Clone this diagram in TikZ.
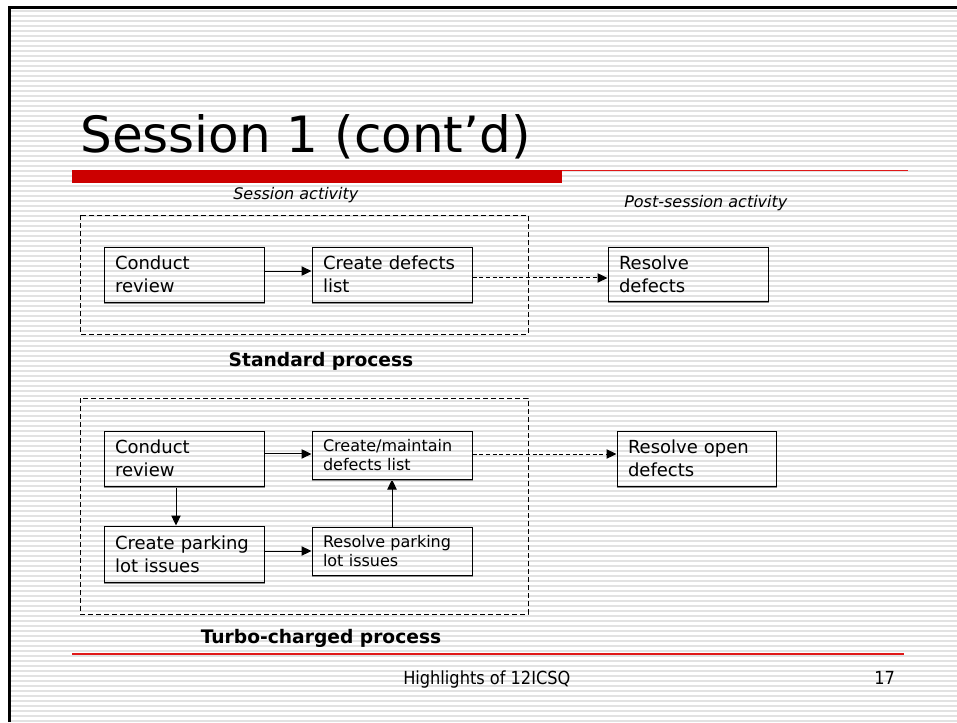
\documentclass[tikz,border=0pt]{standalone}
\usepackage{fontspec}
\setmainfont{DejaVu Sans}
\newfontfamily\footfont{DejaVu Sans Condensed}
\usetikzlibrary{arrows.meta,calc}
\definecolor{stripe}{HTML}{E2E2E2}
\definecolor{barred}{HTML}{CC0000}
\definecolor{linered}{HTML}{E01818}
\definecolor{shadowgray}{HTML}{8C8C8C}
\begin{document}
\begin{tikzpicture}[x=0.75pt,y=-0.75pt,
  box/.style={draw,line width=0.75pt,rectangle,minimum width=120pt,text width=103.5pt,
    inner xsep=8.25pt,inner ysep=0pt,align=left,font=\fontsize{13.5}{17.25}\selectfont},
  smallbox/.style={box,font=\fontsize{12}{14.25}\selectfont},
  arr/.style={-{Triangle[length=7.5pt,width=7pt]},line width=0.75pt},
  dasharr/.style={arr,dash pattern=on 3pt off 2pt},
  dashbox/.style={line width=0.75pt,dash pattern=on 3.75pt off 2.25pt},
  caption/.style={inner sep=0pt,font=\fontsize{12}{14}\selectfont\itshape},
  proc/.style={inner sep=0pt,font=\fontsize{14}{16}\selectfont\bfseries},
  foot/.style={inner sep=0pt,font=\fontsize{13.5}{16}\footfont}]
\useasboundingbox (0,0) rectangle (957,722);
\fill[white] (0,0) rectangle (957,722);
% stripes
\foreach \k in {0,...,142}{
  \draw[stripe,line width=1.3pt] (11,{11+5*\k}) -- (957,{11+5*\k});
}
% border
\draw[black,line width=1.9pt] (9.5,722) -- (9.5,7.5) -- (957,7.5);
% title
\node[anchor=base west,inner sep=0pt,font=\fontsize{37.5}{42}\selectfont] (title) at (80,152) {Session 1 (cont’d)};
\draw[linered,line width=1.1pt] (562,170.7) -- (908,170.7);
\fill[barred] (72,170) rectangle (562,182.5);
% captions
\node[caption,anchor=base west] (sa) at (233,199) {Session activity};
\node[caption,anchor=base west] (psa) at (624,207) {Post-session activity};
% standard process
\draw[dashbox] (80,215) rectangle (528,334);
\node[box,minimum height=41.25pt] (A1) at (184,274.5) {Conduct\\review};
\node[box,minimum height=41.25pt] (B1) at (392,274.5) {Create defects\\list};
\node[box,minimum height=40.5pt] (C1) at (688,274) {Resolve\\defects};
\draw[arr] ([yshift=2.6pt]A1.east) -- ([yshift=2.6pt]A1.east -| B1.west);
\draw[dasharr] ([yshift=-2.6pt]B1.east) -- ([yshift=-2.6pt]B1.east -| C1.west);
\node[proc,anchor=base] (std) at (321,366) {Standard process};
% turbo-charged process
\draw[dashbox] (80,398) rectangle (528,614);
\node[box,minimum height=41.25pt] (A2) at (184,458.5) {Conduct\\review};
\node[smallbox,minimum height=36pt] (B2) at (392,455) {Create/maintain\\defects list};
\node[box,minimum height=41.25pt,minimum width=119.25pt,text width=102.75pt] (C2) at (696.5,458.5) {Resolve open\\defects};
\node[box,minimum height=42pt] (D2) at (184,554) {Create parking\\lot issues};
\node[smallbox,minimum height=36pt] (E2) at (392,551) {Resolve parking\\lot issues};
\draw[arr] ([yshift=3.4pt]A2.east) -- ([yshift=3.4pt]A2.east -| B2.west);
\draw[arr] ([xshift=-6pt]A2.south) -- ([xshift=-6pt]A2.south |- D2.north);
\draw[arr] ([yshift=2.25pt]D2.east) -- ([yshift=2.25pt]D2.east -| E2.west);
\draw[arr] (E2.north) -- (B2.south);
\draw[dasharr] ([yshift=0.75pt]B2.east) -- ([yshift=0.75pt]B2.east -| C2.west);
\node[proc,anchor=base] (turbo) at (321,643) {Turbo-charged process};
% box shadows
\foreach \n in {A1,B1,C1,A2,B2,C2,D2,E2}{
  \draw[shadowgray,line width=0.9pt] ([yshift=-0.8pt]\n.south west) -- ([yshift=-0.8pt]\n.south east);
}
% footer
\draw[linered,line width=1.1pt] (72,654) -- (904,654);
\node[foot,anchor=base west] (hl) at (403,684) {Highlights of 12ICSQ};
\node[foot,anchor=base west] (pg) at (874,684) {17};
\end{tikzpicture}
\end{document}
